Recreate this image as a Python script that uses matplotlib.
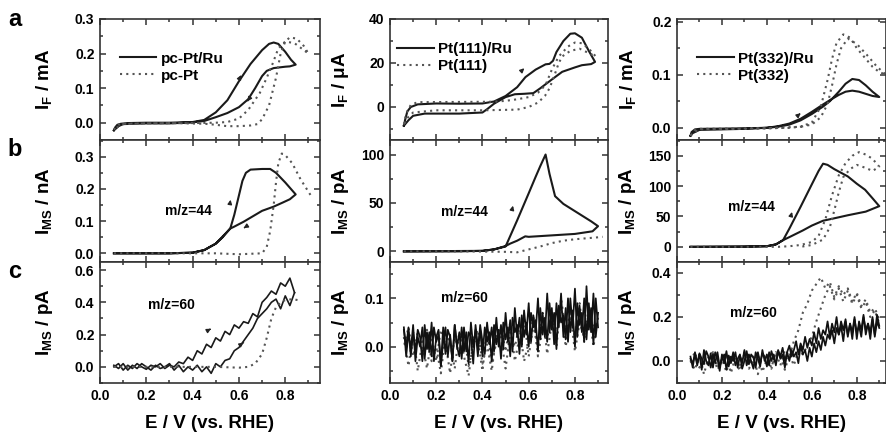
import numpy as np
import matplotlib
matplotlib.use("Agg")
import matplotlib.pyplot as plt
from matplotlib.ticker import MultipleLocator

plt.rcParams["font.family"] = ["Liberation Sans", "DejaVu Sans"]
plt.rcParams["font.weight"] = "bold"
plt.rcParams["mathtext.fontset"] = "custom"
plt.rcParams["mathtext.rm"] = "Liberation Sans:bold"
plt.rcParams["mathtext.bf"] = "Liberation Sans:bold"
plt.rcParams["mathtext.default"] = "rm"

# ---------- row a : faradaic current ----------
# pc-Pt/Ru (mA)
a1_ru_e = [0.06, 0.065, 0.075, 0.09, 0.12, 0.2, 0.3, 0.4, 0.45, 0.5, 0.55, 0.6, 0.65, 0.7, 0.73, 0.75, 0.77, 0.8, 0.825, 0.845,
           0.82, 0.8, 0.75, 0.72, 0.7, 0.67, 0.64, 0.6, 0.55, 0.5, 0.45, 0.4, 0.3, 0.2, 0.1, 0.08, 0.07, 0.06]
a1_ru_i = [-0.022, -0.014, -0.006, -0.003, -0.001, 0.0, 0.0, 0.002, 0.008, 0.03, 0.065, 0.12, 0.17, 0.21, 0.228, 0.232, 0.228, 0.205, 0.182, 0.168,
           0.163, 0.162, 0.158, 0.15, 0.135, 0.1, 0.068, 0.045, 0.028, 0.016, 0.005, 0.001, -0.002, -0.002, -0.004, -0.01, -0.016, -0.022]
# pc-Pt (mA)
a1_pt_e = [0.06, 0.07, 0.08, 0.1, 0.3, 0.45, 0.5, 0.55, 0.6, 0.65, 0.68, 0.7, 0.73, 0.76, 0.78, 0.8, 0.82, 0.85, 0.88, 0.9,
           0.87, 0.84, 0.8, 0.77, 0.745, 0.72, 0.69, 0.64, 0.6, 0.55, 0.5, 0.4, 0.2, 0.1, 0.07, 0.06]
a1_pt_i = [-0.02, -0.012, -0.006, -0.003, -0.001, -0.003, -0.006, -0.01, -0.01, -0.008, -0.004, 0.01, 0.05, 0.13, 0.2, 0.235, 0.247, 0.243, 0.222, 0.2,
           0.215, 0.23, 0.235, 0.215, 0.17, 0.13, 0.086, 0.037, 0.012, 0.002, 0.0, -0.001, -0.002, -0.004, -0.015, -0.02]

# Pt(111)/Ru (uA)
a2_ru_e = [0.06, 0.065, 0.075, 0.09, 0.12, 0.2, 0.3, 0.4, 0.45, 0.5, 0.55, 0.586, 0.63, 0.673, 0.69, 0.705, 0.72, 0.75, 0.78, 0.8, 0.83, 0.86, 0.887,
           0.87, 0.83, 0.8, 0.745, 0.7, 0.65, 0.62, 0.58, 0.54, 0.5, 0.45, 0.42, 0.4, 0.3, 0.15, 0.1, 0.08, 0.06]
a2_ru_i = [-8.5, -6, -2, 0.0, 1.2, 1.6, 1.5, 1.6, 2.5, 5, 9, 13.6, 17, 19.4, 19.6, 21, 25, 30, 33.3, 33.5, 31.5, 25.5, 20.5,
           19.5, 19, 18, 16, 12.5, 8.5, 6.3, 6.0, 5.8, 4.5, 1.5, -1, -2.5, -3, -3, -4, -6, -8.5]
# Pt(111) (uA)
a2_pt_e = [0.06, 0.07, 0.09, 0.12, 0.3, 0.45, 0.5, 0.55, 0.6, 0.64, 0.673, 0.7, 0.73, 0.77, 0.8, 0.83, 0.86, 0.89,
           0.86, 0.82, 0.78, 0.745, 0.73, 0.71, 0.69, 0.67, 0.64, 0.6, 0.55, 0.4, 0.2, 0.1, 0.075, 0.06]
a2_pt_i = [-8, -3, 1, 2.2, 2.3, 2.4, 2.8, 3.5, 4.5, 6.5, 10, 17, 23, 27.5, 29.3, 29, 26.5, 23,
           24.5, 26.5, 25.5, 23, 20, 14, 8.5, 5, 2, 0, -1.2, -1.5, -1.5, -2.5, -5, -8]

# Pt(332)/Ru (mA)
a3_ru_e = [0.06, 0.065, 0.08, 0.1, 0.3, 0.4, 0.45, 0.5, 0.55, 0.6, 0.65, 0.68, 0.72, 0.75, 0.78, 0.81, 0.84, 0.87, 0.9,
           0.87, 0.84, 0.81, 0.78, 0.75, 0.72, 0.68, 0.65, 0.6, 0.55, 0.5, 0.45, 0.4, 0.3, 0.1, 0.07, 0.06]
a3_ru_i = [-0.015, -0.008, -0.003, -0.002, -0.001, 0.0, 0.002, 0.006, 0.014, 0.026, 0.04, 0.05, 0.068, 0.083, 0.092, 0.09, 0.08, 0.068, 0.058,
           0.06, 0.064, 0.068, 0.07, 0.068, 0.062, 0.052, 0.044, 0.03, 0.017, 0.008, 0.003, 0.0, -0.002, -0.004, -0.01, -0.015]
# Pt(332) (mA)
a3_pt_e = [0.06, 0.08, 0.1, 0.4, 0.5, 0.55, 0.6, 0.64, 0.67, 0.69, 0.71, 0.74, 0.77, 0.8, 0.83, 0.87, 0.9, 0.93,
           0.89, 0.85, 0.8, 0.76, 0.73, 0.71, 0.69, 0.67, 0.64, 0.6, 0.55, 0.4, 0.1, 0.07, 0.06]
a3_pt_i = [-0.015, -0.004, -0.002, -0.001, 0.0, 0.002, 0.01, 0.04, 0.09, 0.13, 0.16, 0.176, 0.17, 0.15, 0.135, 0.115, 0.105, 0.1,
           0.115, 0.135, 0.158, 0.168, 0.15, 0.12, 0.08, 0.045, 0.02, 0.006, 0.002, -0.001, -0.003, -0.01, -0.015]

# ---------- row b : m/z = 44 ----------
b1_ru_e = [0.06, 0.2, 0.3, 0.4, 0.45, 0.5, 0.53, 0.563, 0.58, 0.6, 0.615, 0.63, 0.65, 0.7, 0.735, 0.76, 0.8, 0.845,
           0.82, 0.79, 0.75, 0.7, 0.66, 0.62, 0.58, 0.563, 0.54, 0.5, 0.45, 0.4, 0.3, 0.06]
b1_ru_i = [0.0, 0.0, 0.0, 0.002, 0.01, 0.03, 0.05, 0.078, 0.12, 0.18, 0.225, 0.25, 0.26, 0.262, 0.262, 0.25, 0.22, 0.183,
           0.168, 0.158, 0.145, 0.132, 0.115, 0.098, 0.083, 0.077, 0.06, 0.03, 0.01, 0.002, 0.0, 0.0]
b1_pt_e = [0.06, 0.3, 0.5, 0.6, 0.7, 0.72, 0.735, 0.75, 0.76, 0.77, 0.785, 0.8, 0.83, 0.866, 0.91]
b1_pt_i = [0.0, 0.0, 0.0, -0.003, 0.0, 0.02, 0.07, 0.15, 0.22, 0.28, 0.31, 0.305, 0.28, 0.23, 0.18]

b2_ru_e = [0.06, 0.2, 0.3, 0.4, 0.45, 0.5, 0.55, 0.6, 0.63, 0.65, 0.673, 0.69, 0.714, 0.75, 0.79, 0.83, 0.87, 0.9,
           0.876, 0.8, 0.7, 0.6, 0.585, 0.55, 0.52, 0.5, 0.45, 0.4, 0.06]
b2_ru_i = [0.0, 0.0, 0.0, 0.5, 2, 5, 32, 60, 77, 88, 100, 80, 57, 49, 43, 37, 31, 26,
           20.7, 18, 16.5, 15, 15.5, 11, 8, 5.5, 2, 0.5, 0.0]
b2_pt_e = [0.06, 0.3, 0.5, 0.55, 0.6, 0.65, 0.7, 0.75, 0.8, 0.85, 0.9, 0.92]
b2_pt_i = [0.0, 0.0, -0.5, -1, 2, 5, 8.5, 11, 12.5, 13.5, 14.5, 15]

b3_ru_e = [0.06, 0.3, 0.4, 0.44, 0.472, 0.5, 0.55, 0.6, 0.63, 0.65, 0.67, 0.7, 0.76, 0.8, 0.837, 0.87, 0.9,
           0.84, 0.76, 0.7, 0.65, 0.6, 0.56, 0.5, 0.472, 0.44, 0.4, 0.06]
b3_ru_i = [0.0, 0.0, 1, 4, 11, 30, 66, 103, 125, 137, 135, 128, 116, 104, 94, 80, 67,
           58, 52, 47, 43, 35, 27, 16, 11, 4, 1, 0.0]
b3_pt_e = [0.06, 0.45, 0.5, 0.55, 0.6, 0.63, 0.66, 0.69, 0.72, 0.75, 0.78, 0.81, 0.84, 0.87, 0.9,
           0.87, 0.84, 0.8, 0.77, 0.74, 0.72, 0.7, 0.68, 0.65, 0.6, 0.55]
b3_pt_i = [0.0, 0.0, 1, 3, 8, 18, 45, 85, 118, 138, 150, 156, 152, 145, 132,
           125, 130, 135, 128, 115, 90, 60, 32, 12, 3, 0.0]

# ---------- row c : m/z = 60 ----------
c1_e = np.round(np.arange(0.06, 0.845, 0.02), 2)
c1_ru_fwd = [0.0, 0.02, -0.02, 0.01, -0.01, 0.02, 0.0, -0.015, 0.01, 0.0, 0.02, -0.01, 0.01, 0.0, 0.03, 0.02, 0.06, 0.04, 0.1, 0.08,
             0.14, 0.12, 0.18, 0.16, 0.22, 0.2, 0.26, 0.24, 0.28, 0.27, 0.33, 0.31, 0.4, 0.43, 0.47, 0.45, 0.52, 0.5, 0.55, 0.46]
c1_ru_bwd = [0.01, -0.01, 0.02, -0.02, 0.01, -0.01, 0.02, 0.0, -0.02, 0.01, -0.01, 0.0, 0.02, -0.02, 0.01, -0.03, 0.0, -0.02, 0.01, -0.03,
             0.0, -0.04, 0.02, 0.0, 0.04, 0.05, 0.1, 0.12, 0.16, 0.2, 0.24, 0.3, 0.33, 0.36, 0.4, 0.42, 0.36, 0.44, 0.38, 0.46]
c1_pt_e = [0.06, 0.3, 0.5, 0.6, 0.64, 0.67, 0.7, 0.72, 0.74, 0.76, 0.79, 0.83, 0.87]
c1_pt_i = [0.0, 0.0, 0.0, -0.005, 0.0, 0.02, 0.08, 0.18, 0.3, 0.37, 0.41, 0.42, 0.41]

e_fine = np.round(np.arange(0.06, 0.905, 0.01), 2)
e_coarse = np.round(np.arange(0.06, 0.905, 0.02), 2)

c2_ru_fwd = [0.04, -0.02, 0.03, -0.01, 0.045, -0.03, 0.02, 0.0, 0.04, -0.025,
             0.03, -0.01, 0.05, -0.03, 0.02, 0.035, -0.04, 0.01, 0.04, -0.02,
             0.025, -0.03, 0.045, 0.0, -0.02, 0.04, -0.01, 0.03, -0.035, 0.05,
             0.0, 0.035, -0.02, 0.045, 0.01, -0.015, 0.05, 0.005, 0.04, -0.01,
             0.06, 0.0, 0.045, -0.005, 0.07, 0.01, 0.055, -0.01, 0.08, 0.02,
             0.06, 0.0, 0.075, 0.025, 0.09, 0.01, 0.065, 0.03, 0.1, 0.015,
             0.07, 0.02, 0.11, 0.03, 0.08, 0.005, 0.09, 0.04, 0.11, 0.02,
             0.08, 0.01, 0.1, 0.04, 0.12, 0.02, 0.085, 0.03, 0.1, 0.015,
             0.09, 0.03, 0.11, 0.02, 0.07]
c2_ru_bwd = [0.035, 0.0, 0.04, -0.02, 0.03,
             -0.01, 0.035, 0.02, -0.03, 0.045, -0.005, 0.03, -0.02, 0.04, 0.01,
             0.025, -0.04, 0.04, -0.015, 0.035, 0.02, -0.03, 0.045, 0.0, 0.03,
             -0.025, 0.04, -0.01, 0.03, 0.02, -0.035, 0.045, 0.0, 0.035, -0.02,
             0.04, 0.01, 0.03, -0.03, 0.045, 0.005, 0.035, -0.025, 0.05, 0.015,
             0.04, -0.02, 0.06, 0.03, 0.045, -0.015, 0.065, 0.02, 0.05, 0.0,
             0.07, 0.04, 0.055, -0.01, 0.08, 0.025, 0.06, 0.01, 0.09, 0.035,
             0.07, -0.005, 0.085, 0.05, 0.065, 0.015, 0.1, 0.03, 0.075, 0.0,
             0.09, 0.045, 0.07, 0.01, 0.125, 0.035, 0.08, 0.005, 0.1, 0.04]
c2_pt_fwd = [0.02, -0.04, 0.03, -0.05, 0.01, 0.035, -0.03, 0.0, -0.055, 0.025, 0.01, -0.045, 0.03, -0.02, -0.06,
             0.015, 0.035, -0.035, 0.005, -0.05, 0.025, 0.04, -0.01, 0.05, -0.03, 0.02, 0.06, -0.02, 0.045, 0.0,
             0.07, -0.015, 0.05, 0.03, 0.08, 0.0, 0.06, 0.02, 0.09, 0.01, 0.07, 0.04, 0.05]
c2_pt_bwd = [0.0, 0.04, -0.02, 0.03, 0.005, -0.045, 0.02, -0.03, 0.035, 0.01, -0.055, 0.025, -0.02, 0.03, -0.04,
             0.0, 0.015, -0.05, 0.04, -0.035, 0.01, 0.02, -0.045, 0.03, 0.0, 0.045, -0.03, 0.01, 0.06, -0.02,
             0.04, 0.02, 0.055, 0.0, 0.1, 0.03, 0.07, -0.01, 0.05, 0.02, 0.08, 0.0, 0.06]

c3_ru_fwd = [0.02, -0.03, 0.04, -0.01, 0.03, -0.04, 0.05, 0.0, -0.02, 0.035,
             -0.03, 0.04, 0.01, -0.045, 0.03, -0.01, 0.045, -0.025, 0.02, 0.0,
             0.04, -0.03, 0.025, -0.01, 0.05, -0.02, 0.03, 0.0, -0.035, 0.04,
             0.01, -0.025, 0.05, 0.0, 0.03, -0.02, 0.045, 0.01, -0.01, 0.05,
             0.02, 0.06, 0.0, 0.04, 0.07, 0.02, 0.05, 0.09, 0.03, 0.08,
             0.05, 0.11, 0.06, 0.1, 0.07, 0.13, 0.08, 0.15, 0.1, 0.14,
             0.12, 0.18, 0.11, 0.17, 0.13, 0.2, 0.12, 0.18, 0.14, 0.19,
             0.11, 0.17, 0.13, 0.2, 0.1, 0.18, 0.14, 0.21, 0.12, 0.17,
             0.13, 0.2, 0.11, 0.18, 0.15]
c3_ru_bwd = [0.01, -0.01, 0.03, -0.02, 0.035,
             0.01, -0.015, 0.045, 0.02, -0.03, 0.03, -0.01, 0.04, -0.025, 0.005,
             0.03, -0.04, 0.025, -0.01, 0.04, -0.02, 0.01, 0.03, -0.035, 0.0,
             0.045, -0.015, 0.03, 0.015, -0.03, 0.04, -0.01, 0.035, 0.02, -0.025,
             0.04, 0.0, 0.03, -0.02, 0.045, 0.01, 0.03, -0.03, 0.04, 0.0,
             0.05, 0.02, 0.04, -0.01, 0.07, 0.03, 0.05, 0.0, 0.06, 0.02,
             0.08, 0.04, 0.09, 0.05, 0.11, 0.07, 0.12, 0.1, 0.14, 0.08,
             0.15, 0.12, 0.16, 0.09, 0.18, 0.12, 0.17, 0.1, 0.19, 0.13,
             0.16, 0.11, 0.2, 0.14, 0.17, 0.1, 0.19, 0.12, 0.21, 0.16]
c3_pt_fwd = [0.0, -0.04, 0.03, -0.06, 0.02, 0.04, -0.03, 0.01, -0.05, 0.03,
             0.0, -0.045, 0.035, -0.02, 0.02, -0.06, 0.03, 0.0, -0.035, 0.04,
             -0.02, 0.05, 0.02, 0.09, 0.14, 0.22, 0.26, 0.32, 0.35, 0.38,
             0.33, 0.36, 0.29, 0.34, 0.3, 0.33, 0.27, 0.31, 0.25, 0.28,
             0.22, 0.24, 0.19]
c3_pt_bwd = [0.0, 0.04, -0.03,
             0.02, -0.01, 0.035, -0.04, 0.0, 0.03, -0.055, 0.02, -0.02, 0.04,
             -0.035, 0.0, 0.03, -0.05, 0.01, -0.03, 0.04, 0.02, -0.04, 0.03,
             -0.02, 0.05, 0.03, 0.07, 0.11, 0.18, 0.24, 0.3, 0.34, 0.28,
             0.33, 0.27, 0.32, 0.26, 0.3, 0.24, 0.27, 0.2, 0.23, 0.17]

# ---------- layout ----------
W, H = 887, 434
col_px = [(100, 220, 0.95), (390, 218, 0.943), (677, 209, 0.93)]
row_px = [(19, 140), (140, 262), (262, 383)]

fig = plt.figure(figsize=(W / 100, H / 100), dpi=100)

ylims = [[(-0.05, 0.30), (-15, 40), (-0.023, 0.205)],
         [(-0.027, 0.352), (-11, 115), (-25, 176)],
         [(-0.1, 0.65), (-0.075, 0.175), (-0.1, 0.45)]]
ysteps = [[(0.1, 0.05), (20, 10), (0.1, 0.05)],
          [(0.1, 0.05), (50, 25), (50, 25)],
          [(0.2, 0.1), (0.1, 0.05), (0.2, 0.1)]]
yfmt = [["%.1f", "%d", "%.1f"], ["%.1f", "%d", "%d"], ["%.1f", "%.1f", "%.1f"]]
ylabels = [[r"I$_\mathregular{F}$ / mA", r"I$_\mathregular{F}$ / μA", r"I$_\mathregular{F}$ / mA"],
           [r"I$_\mathregular{MS}$ / nA", r"I$_\mathregular{MS}$ / pA", r"I$_\mathregular{MS}$ / pA"],
           [r"I$_\mathregular{MS}$ / pA", r"I$_\mathregular{MS}$ / pA", r"I$_\mathregular{MS}$ / pA"]]
ylab_x = [44, 341, 628]

axes = [[None] * 3 for _ in range(3)]
for r, (top, bot) in enumerate(row_px):
    for c, (left, width, xmax) in enumerate(col_px):
        ax = fig.add_axes([left / W, 1 - bot / H, width / W, (bot - top) / H])
        axes[r][c] = ax
        ax.set_xlim(0, xmax)
        ax.set_ylim(*ylims[r][c])
        ax.xaxis.set_major_locator(MultipleLocator(0.2))
        ax.xaxis.set_minor_locator(MultipleLocator(0.1))
        ax.yaxis.set_major_locator(MultipleLocator(ysteps[r][c][0]))
        ax.yaxis.set_minor_locator(MultipleLocator(ysteps[r][c][1]))
        ax.yaxis.set_major_formatter(plt.FormatStrFormatter(yfmt[r][c]))
        ax.xaxis.set_major_formatter(plt.FormatStrFormatter("%.1f"))
        ax.tick_params(which="both", direction="in", top=True, right=True, width=1.1, color="#333")
        ax.tick_params(which="major", length=4.5, labelsize=10, pad=4)
        ax.tick_params(which="minor", length=2.5)
        ax.tick_params(axis="x", labelbottom=(r == 2))
        for s in ax.spines.values():
            s.set_linewidth(1.2)
            s.set_color("#333")
        ax.set_ylabel(ylabels[r][c], fontsize=13.5, fontweight="bold", va="center")
        ax.yaxis.set_label_coords((ylab_x[c] - left) / width, 0.5)
        if r == 2:
            ax.set_xlabel("E / V (vs. RHE)", fontsize=13.5, fontweight="bold", va="center")
            ax.xaxis.set_label_coords(0.5, -(423 - bot) / (bot - top))

solid = dict(color="#1a1a1a", lw=1.5)
dotted = dict(color="#555555", lw=1.5, linestyle=(0, (1, 2)))
noisy = dict(color="#111111", lw=1.25)

# row a
ax = axes[0][0]
ax.plot(a1_ru_e, a1_ru_i, label="pc-Pt/Ru", **solid)
ax.plot(a1_pt_e, a1_pt_i, label="pc-Pt", **dotted)
ax = axes[0][1]
ax.plot(a2_ru_e, a2_ru_i, label="Pt(111)/Ru", **solid)
ax.plot(a2_pt_e, a2_pt_i, label="Pt(111)", **dotted)
ax = axes[0][2]
ax.plot(a3_ru_e, a3_ru_i, label="Pt(332)/Ru", **solid)
ax.plot(a3_pt_e, a3_pt_i, label="Pt(332)", **dotted)

leg_pos = [(0.09, 0.73), (0.032, 0.81), (0.096, 0.73)]
for c in range(3):
    axes[0][c].legend(loc="upper left", bbox_to_anchor=leg_pos[c], frameon=False, fontsize=11,
                      handlelength=2.4, handletextpad=0.3, labelspacing=0.2,
                      borderpad=0, borderaxespad=0)

# row b
axes[1][0].plot(b1_ru_e, b1_ru_i, **solid)
axes[1][0].plot(b1_pt_e, b1_pt_i, **dotted)
axes[1][1].plot(b2_ru_e, b2_ru_i, **solid)
axes[1][1].plot(b2_pt_e, b2_pt_i, **dotted)
axes[1][2].plot(b3_ru_e, b3_ru_i, **solid)
axes[1][2].plot(b3_pt_e, b3_pt_i, **dotted)

# row c
ax = axes[2][0]
ax.plot(c1_e, c1_ru_fwd, color="#1a1a1a", lw=1.2)
ax.plot(c1_e, c1_ru_bwd, color="#1a1a1a", lw=1.2)
ax.plot(c1_pt_e, c1_pt_i, **dotted)
ax = axes[2][1]
ax.plot(e_coarse, c2_pt_fwd, **dotted)
ax.plot(e_coarse[::-1], c2_pt_bwd[::-1], **dotted)
ax.plot(e_fine, c2_ru_fwd, **noisy)
ax.plot(e_fine, c2_ru_bwd, **noisy)
ax = axes[2][2]
ax.plot(e_coarse, c3_pt_fwd, **dotted)
ax.plot(e_coarse, c3_pt_bwd, **dotted)
ax.plot(e_fine, c3_ru_fwd, **noisy)
ax.plot(e_fine, c3_ru_bwd, **noisy)

# m/z labels
mz = [(1, 0, 0.38, 0.13, "m/z=44"), (1, 1, 0.32, 41, "m/z=44"), (1, 2, 0.33, 66, "m/z=44"),
      (2, 0, 0.31, 0.385, "m/z=60"), (2, 1, 0.32, 0.1, "m/z=60"), (2, 2, 0.34, 0.22, "m/z=60")]
for r, c, x, y, t in mz:
    axes[r][c].text(x, y, t, fontsize=10, ha="center", va="center", fontweight="bold")

# sweep direction arrows
arrows = [(0, 0, (0.60, 0.125), (0.615, 0.145)), (0, 0, (0.645, 0.07), (0.63, 0.055)),
          (1, 0, (0.56, 0.15), (0.566, 0.175)), (1, 0, (0.635, 0.085), (0.62, 0.078)),
          (2, 0, (0.465, 0.225), (0.49, 0.245)), (2, 0, (0.61, 0.14), (0.63, 0.16)),
          (0, 1, (0.565, 16), (0.59, 18.5)), (1, 1, (0.525, 40), (0.535, 50)),
          (0, 2, (0.535, 0.022), (0.56, 0.031)), (1, 2, (0.505, 48), (0.515, 62))]
for r, c, tail, tip in arrows:
    axes[r][c].annotate("", xy=tip, xytext=tail,
                        arrowprops=dict(arrowstyle="-|>", lw=1.0, color="#222", mutation_scale=6))

for t, y in [("a", 19), ("b", 150), ("c", 271)]:
    fig.text(15 / W, 1 - y / H, t, fontsize=17, fontweight="bold", ha="center", va="center")

fig.savefig("out.png", dpi=100)
